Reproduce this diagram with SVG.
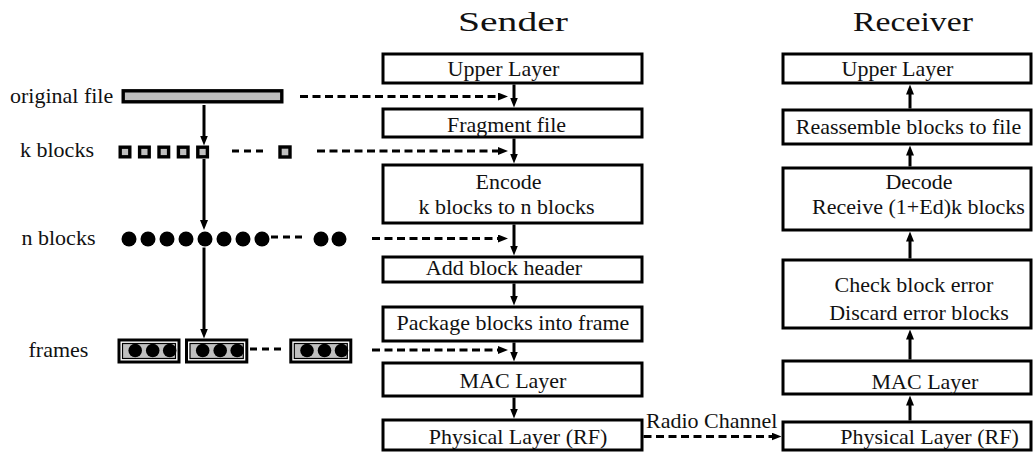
<svg xmlns="http://www.w3.org/2000/svg" width="1033" height="454" viewBox="0 0 1033 454" font-family="'Liberation Serif', 'Times New Roman', serif">
<defs>
<marker id="ah" viewBox="0 0 10 8" refX="3" refY="4" markerWidth="10" markerHeight="8" markerUnits="userSpaceOnUse" orient="auto"><path d="M0,0L10,4L0,8z" fill="#000"/></marker>
<style>
text{font-family:'Liberation Serif','Times New Roman',serif;font-size:22px;fill:#111}
.c{text-anchor:middle}
.t{font-size:28px}
.box{fill:#fff;stroke:#000;stroke-width:3}
.g{fill:#bfbfbf;stroke:#000;stroke-width:3.4}
.fr{fill:#fff;stroke:#000;stroke-width:3}
.fi{fill:#bfbfbf;stroke:#000;stroke-width:1.2}
.sol{stroke:#000;stroke-width:3;fill:none;marker-end:url(#ah)}
.dsh{stroke:#000;stroke-width:3;fill:none;stroke-dasharray:8 4.5;marker-end:url(#ah)}
.sd{stroke:#000;stroke-width:3;fill:none;stroke-dasharray:7 5}
</style>
</defs>
<rect width="1033" height="454" fill="#fff"/>
<text class="c t" x="513" y="31" textLength="110" lengthAdjust="spacingAndGlyphs">Sender</text>
<text class="c t" x="913" y="31" textLength="120" lengthAdjust="spacingAndGlyphs">Receiver</text>

<g id="original-file">
<text x="10" y="103">original file</text>
<rect class="g" x="123.2" y="90.8" width="158.6" height="11"/>
</g>
<g id="k-blocks">
<text x="20" y="157">k blocks</text>
<rect class="g" x="120.2" y="147.2" width="9.6" height="9.6"/>
<rect class="g" x="139.6" y="147.2" width="9.6" height="9.6"/>
<rect class="g" x="159" y="147.2" width="9.6" height="9.6"/>
<rect class="g" x="178.4" y="147.2" width="9.6" height="9.6"/>
<rect class="g" x="197.8" y="147.2" width="9.6" height="9.6"/>
<line class="sd" x1="232" y1="151" x2="264" y2="151"/>
<rect class="g" x="280" y="147" width="10" height="10"/>
</g>
<g id="n-blocks">
<text x="21.5" y="245">n blocks</text>
<g fill="#000">
<circle cx="129" cy="239" r="7.5"/><circle cx="148" cy="239" r="7.5"/><circle cx="167" cy="239" r="7.5"/><circle cx="186" cy="239" r="7.5"/>
<circle cx="205" cy="239" r="7.5"/><circle cx="224" cy="239" r="7.5"/><circle cx="243" cy="239" r="7.5"/><circle cx="262" cy="239" r="7.5"/>
<circle cx="321" cy="239" r="7.5"/><circle cx="339" cy="239" r="7.5"/>
</g>
<line class="sd" x1="271" y1="237" x2="304" y2="237"/>
</g>
<g id="frames">
<text x="28.5" y="357">frames</text>
<rect class="fr" x="119" y="340" width="60" height="22"/>
<rect class="fi" x="122.5" y="343.5" width="53" height="15"/>
<rect class="fr" x="186.5" y="340" width="60.3" height="22"/>
<rect class="fi" x="190" y="343.5" width="53.3" height="15"/>
<rect class="fr" x="290.8" y="340" width="60" height="22"/>
<rect class="fi" x="294.3" y="343.5" width="53" height="15"/>
<g fill="#000">
<circle cx="135.2" cy="350.5" r="6.8"/><circle cx="152.7" cy="350.5" r="6.8"/><circle cx="169.7" cy="350.5" r="6.8"/>
<circle cx="202.7" cy="350.5" r="6.8"/><circle cx="220.2" cy="350.5" r="6.8"/><circle cx="237.2" cy="350.5" r="6.8"/>
<circle cx="307" cy="350.5" r="6.8"/><circle cx="324.5" cy="350.5" r="6.8"/><circle cx="341.5" cy="350.5" r="6.8"/>
</g>
<line class="sd" x1="250" y1="349" x2="284" y2="349"/>
</g>

<g id="s-upper"><rect class="box" x="383" y="54" width="259" height="29"/><text class="c" x="503.5" y="75.5">Upper Layer</text></g>
<g id="s-fragment"><rect class="box" x="383" y="109" width="259" height="28"/><text class="c" x="506.5" y="131.5">Fragment file</text></g>
<g id="s-encode"><rect class="box" x="383" y="165" width="259" height="58"/><text class="c" x="508.5" y="188.5">Encode</text><text class="c" x="506.5" y="213.5">k blocks to n blocks</text></g>
<g id="s-header"><rect class="box" x="383" y="257" width="259" height="25"/><text class="c" x="504" y="275">Add block header</text></g>
<g id="s-package"><rect class="box" x="383" y="307" width="259" height="34"/><text class="c" x="513" y="329.5">Package blocks into frame</text></g>
<g id="s-mac"><rect class="box" x="383" y="363" width="259" height="33"/><text class="c" x="513" y="387.5">MAC Layer</text></g>
<g id="s-phy"><rect class="box" x="383" y="420" width="259" height="30"/><text class="c" x="518" y="443.5">Physical Layer (RF)</text></g>

<g id="r-upper"><rect class="box" x="783" y="54" width="248" height="29"/><text class="c" x="897.5" y="76">Upper Layer</text></g>
<g id="r-reassemble"><rect class="box" x="783" y="110" width="248" height="34"/><text class="c" x="908.5" y="133.5">Reassemble blocks to file</text></g>
<g id="r-decode"><rect class="box" x="783" y="168" width="248" height="62"/><text class="c" x="919" y="188.5">Decode</text><text class="c" x="918.5" y="213.5">Receive (1+Ed)k blocks</text></g>
<g id="r-check"><rect class="box" x="783" y="260" width="248" height="68"/><text class="c" x="914" y="292">Check block error</text><text class="c" x="919" y="320">Discard error blocks</text></g>
<g id="r-mac"><rect class="box" x="783" y="361" width="248" height="33"/><text class="c" x="925" y="388.5">MAC Layer</text></g>
<g id="r-phy"><rect class="box" x="783" y="422" width="248" height="28"/><text class="c" x="929.5" y="444">Physical Layer (RF)</text></g>

<g id="connectors">
<line class="sol" x1="204" y1="105" x2="204" y2="138.5"/>
<line class="sol" x1="204" y1="159" x2="204" y2="223"/>
<line class="sol" x1="204" y1="247.5" x2="204" y2="331.5"/>
<line class="dsh" x1="300" y1="96.5" x2="501" y2="96.5"/>
<line class="dsh" x1="317" y1="151" x2="501" y2="151"/>
<line class="dsh" x1="372" y1="238.5" x2="501" y2="238.5"/>
<line class="dsh" x1="372" y1="350" x2="501" y2="350"/>
<line class="sol" x1="514" y1="84.5" x2="514" y2="100.5"/>
<line class="sol" x1="514" y1="138.5" x2="514" y2="156.5"/>
<line class="sol" x1="514" y1="224.5" x2="514" y2="248.5"/>
<line class="sol" x1="514" y1="283.5" x2="514" y2="298.5"/>
<line class="sol" x1="514" y1="342.5" x2="514" y2="354.5"/>
<line class="sol" x1="514" y1="397.5" x2="514" y2="411.5"/>
<line class="dsh" x1="643.5" y1="436.5" x2="774.5" y2="436.5"/>
<text x="646" y="428">Radio Channel</text>
<line class="sol" x1="910" y1="420.5" x2="910" y2="402.5"/>
<line class="sol" x1="910" y1="359.5" x2="910" y2="336.5"/>
<line class="sol" x1="910" y1="258.5" x2="910" y2="238.5"/>
<line class="sol" x1="910" y1="166.5" x2="910" y2="152.5"/>
<line class="sol" x1="910" y1="108.5" x2="910" y2="91.5"/>
</g>
</svg>
